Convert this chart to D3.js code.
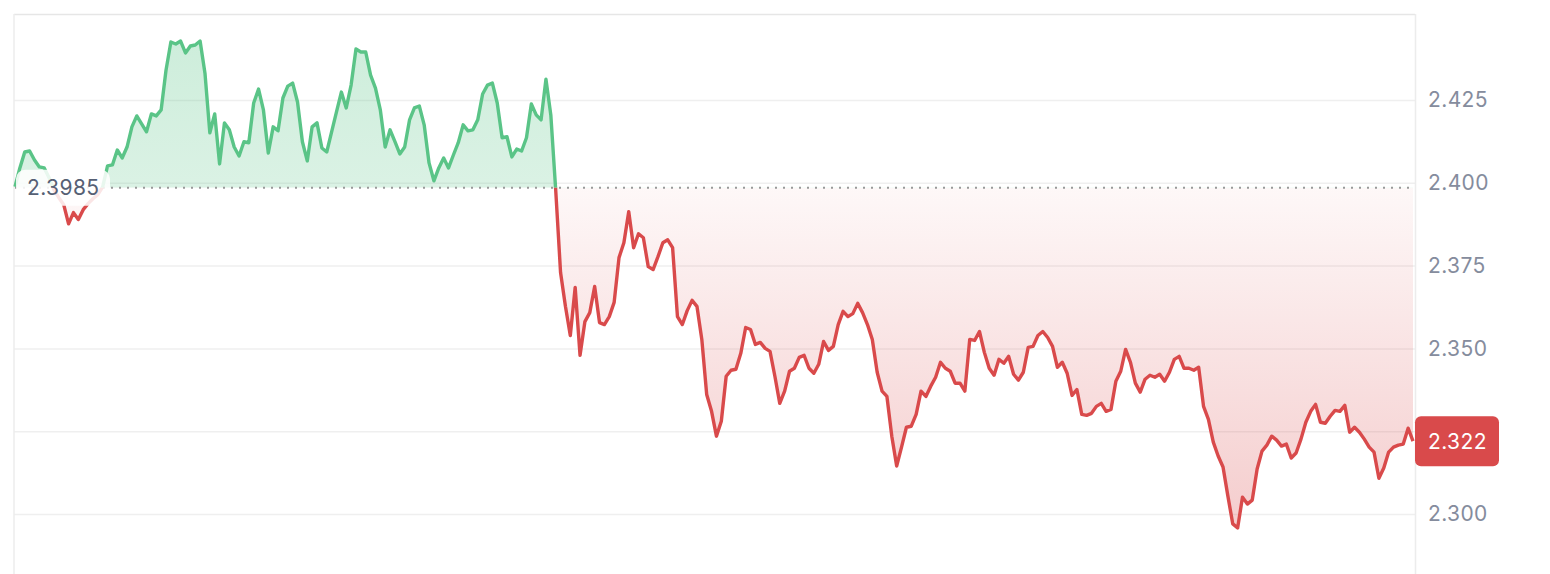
<!DOCTYPE html>
<html>
<head>
<meta charset="utf-8">
<script src="https://cdn.jsdelivr.net/npm/d3@7"></script>
<style>
  body { margin: 0; background: #fff; overflow: hidden; }
  text { font-family: Inter, "Noto Sans", sans-serif; }
</style>
</head>
<body>
<script>
var w = 1550;
var h = 574;
var svg;

// price series, one point per step
var prices = [
  2.3988, 2.4045, 2.4093, 2.4096, 2.4069, 2.4048, 2.4045, 2.4015, 2.3979, 2.3955,
  2.3934, 2.3876, 2.3910, 2.3889, 2.3919, 2.3937, 2.3952, 2.3964, 2.3988,
  2.4051, 2.4054, 2.4099, 2.4075, 2.4108, 2.4169, 2.4202, 2.4178, 2.4154, 2.4208,
  2.4202, 2.4220, 2.4340, 2.4425, 2.4419, 2.4428, 2.4392, 2.4413, 2.4416, 2.4428,
  2.4331, 2.4151, 2.4208, 2.4057, 2.4181, 2.4160, 2.4108, 2.4081, 2.4124, 2.4121,
  2.4241, 2.4283, 2.4220, 2.4090,
  2.4169, 2.4157, 2.4256, 2.4292, 2.4301, 2.4244, 2.4124, 2.4066, 2.4169, 2.4181,
  2.4105, 2.4093, 2.4154, 2.4214, 2.4274, 2.4226, 2.4295, 2.4404, 2.4395, 2.4395,
  2.4325, 2.4286, 2.4220, 2.4108, 2.4160, 2.4124, 2.4087, 2.4108, 2.4190, 2.4226,
  2.4232, 2.4175, 2.4060, 2.4006, 2.4045, 2.4075, 2.4045, 2.4084, 2.4121, 2.4175,
  2.4157, 2.4160, 2.4190, 2.4268, 2.4295, 2.4301, 2.4241, 2.4136, 2.4139, 2.4078,
  2.4102, 2.4096, 2.4136, 2.4238, 2.4205, 2.4190, 2.4313, 2.4205, 2.3979,
  2.3729, 2.3627, 2.3539, 2.3684, 2.3479, 2.3581, 2.3608, 2.3687, 2.3578, 2.3572,
  2.3596, 2.3639, 2.3774, 2.3819, 2.3913, 2.3804, 2.3846, 2.3834, 2.3747, 2.3738,
  2.3777, 2.3819, 2.3828, 2.3804, 2.3596, 2.3572, 2.3614, 2.3645, 2.3627, 2.3527,
  2.3361, 2.3310, 2.3235, 2.3280, 2.3416, 2.3434, 2.3437, 2.3485, 2.3563, 2.3557,
  2.3512, 2.3518, 2.3500, 2.3491, 2.3416, 2.3334, 2.3371, 2.3431, 2.3440, 2.3473,
  2.3479, 2.3440, 2.3425, 2.3452, 2.3521, 2.3494, 2.3506, 2.3572, 2.3612, 2.3596,
  2.3605, 2.3636, 2.3608, 2.3572, 2.3527, 2.3428, 2.3371, 2.3355, 2.3235, 2.3145,
  2.3202, 2.3262, 2.3265, 2.3301, 2.3371, 2.3355, 2.3386, 2.3413, 2.3458, 2.3440,
  2.3431, 2.3395, 2.3395, 2.3371, 2.3527, 2.3524, 2.3551, 2.3488, 2.3440, 2.3419,
  2.3467, 2.3455, 2.3476, 2.3422, 2.3404, 2.3428, 2.3503, 2.3506, 2.3539,
  2.3551, 2.3533, 2.3506, 2.3443, 2.3458, 2.3425, 2.3358, 2.3376, 2.3301, 2.3298,
  2.3304, 2.3325, 2.3334, 2.3310, 2.3316, 2.3401, 2.3431, 2.3497, 2.3458, 2.3395,
  2.3368, 2.3407, 2.3419, 2.3413, 2.3422, 2.3401, 2.3428, 2.3467, 2.3476, 2.3440,
  2.3440, 2.3434, 2.3443, 2.3325, 2.3286, 2.3217, 2.3175, 2.3142, 2.3054, 2.2970,
  2.2958, 2.3051, 2.3030, 2.3042, 2.3136, 2.3190, 2.3208, 2.3235,
  2.3223, 2.3205, 2.3211, 2.3169, 2.3184, 2.3226, 2.3277, 2.3310, 2.3331, 2.3277,
  2.3274, 2.3295, 2.3313, 2.3310, 2.3328, 2.3247, 2.3262, 2.3247, 2.3226, 2.3202,
  2.3187, 2.3108, 2.3139, 2.3187, 2.3202, 2.3208, 2.3211, 2.3259, 2.3220
];

var basePrice = 2.3985;
var lastPrice = 2.322;
var yTicks = [2.300, 2.325, 2.350, 2.375, 2.400, 2.425];

var green = "#5ac487";
var red = "#d94a4b";

drawContent();

function drawContent(){
    svg = d3.select("body")
        .append("svg")
        .attr("width", w)
        .attr("height", h);

    var x = d3.scaleLinear()
        .domain([0, prices.length - 1])
        .range([15, 1413]);

    var y = d3.scaleLinear()
        .domain([2.300, 2.425])
        .range([514, 100]);

    var baseY = y(basePrice);

    //---defs-----
    var defs = svg.append("defs");

    defs.append("clipPath").attr("id", "clipUp")
        .append("rect")
        .attr("x", 0).attr("y", 0)
        .attr("width", w).attr("height", baseY);

    defs.append("clipPath").attr("id", "clipDown")
        .append("rect")
        .attr("x", 0).attr("y", baseY)
        .attr("width", w).attr("height", h - baseY);

    var gGreen = defs.append("linearGradient")
        .attr("id", "fillGreen")
        .attr("gradientUnits", "userSpaceOnUse")
        .attr("x1", 0).attr("y1", 40)
        .attr("x2", 0).attr("y2", baseY);
    gGreen.append("stop").attr("offset", 0).attr("stop-color", green).attr("stop-opacity", 0.3);
    gGreen.append("stop").attr("offset", 1).attr("stop-color", green).attr("stop-opacity", 0.22);

    var gRed = defs.append("linearGradient")
        .attr("id", "fillRed")
        .attr("gradientUnits", "userSpaceOnUse")
        .attr("x1", 0).attr("y1", baseY)
        .attr("x2", 0).attr("y2", 530);
    gRed.append("stop").attr("offset", 0).attr("stop-color", red).attr("stop-opacity", 0.04);
    gRed.append("stop").attr("offset", 1).attr("stop-color", red).attr("stop-opacity", 0.28);

    //---grid and frame-----
    svg.append("g")
        .attr("transform", "translate(1415,0)")
        .call(d3.axisLeft(y).tickValues(yTicks).tickSize(1415 - 14).tickFormat(""))
        .call(function (g) { g.select(".domain").remove(); })
        .selectAll("line")
        .attr("stroke", "#efefef")
        .attr("stroke-width", 1.5);

    svg.append("line")
        .attr("x1", 14).attr("y1", 14.5)
        .attr("x2", 1415).attr("y2", 14.5)
        .attr("stroke", "#e6e6e6")
        .attr("stroke-width", 1.5);

    svg.append("line")
        .attr("x1", 14).attr("y1", 14)
        .attr("x2", 14).attr("y2", h)
        .attr("stroke", "#ececec")
        .attr("stroke-width", 1.5);

    svg.append("line")
        .attr("x1", 1415.5).attr("y1", 14)
        .attr("x2", 1415.5).attr("y2", h)
        .attr("stroke", "#ececec")
        .attr("stroke-width", 1.5);

    //---areas-----
    var area = d3.area()
        .x(function (d, i) { return x(i); })
        .y0(baseY)
        .y1(function (d) { return y(d); });

    svg.append("path")
        .datum(prices)
        .attr("d", area)
        .attr("fill", "url(#fillGreen)")
        .attr("clip-path", "url(#clipUp)");

    svg.append("path")
        .datum(prices)
        .attr("d", area)
        .attr("fill", "url(#fillRed)")
        .attr("clip-path", "url(#clipDown)");

    //---base line-----
    svg.append("line")
        .attr("x1", 15).attr("y1", baseY)
        .attr("x2", 1410).attr("y2", baseY)
        .attr("stroke", "#999999")
        .attr("stroke-width", 2)
        .attr("stroke-dasharray", "2,6");

    //---price line-----
    var line = d3.line()
        .x(function (d, i) { return x(i); })
        .y(function (d) { return y(d); });

    svg.append("path")
        .datum(prices)
        .attr("d", line)
        .attr("fill", "none")
        .attr("stroke", green)
        .attr("stroke-width", 3.4)
        .attr("stroke-linejoin", "round")
        .attr("clip-path", "url(#clipUp)");

    svg.append("path")
        .datum(prices)
        .attr("d", line)
        .attr("fill", "none")
        .attr("stroke", red)
        .attr("stroke-width", 3.4)
        .attr("stroke-linejoin", "round")
        .attr("clip-path", "url(#clipDown)");

    //---base label-----
    svg.append("rect")
        .attr("x", 16)
        .attr("y", baseY - 18)
        .attr("width", 94)
        .attr("height", 36)
        .attr("rx", 9)
        .attr("fill", "#ffffff")
        .attr("fill-opacity", 0.86);

    svg.append("text")
        .text(d3.format(".4f")(basePrice))
        .attr("x", 27)
        .attr("y", baseY)
        .attr("dy", "0.36em")
        .attr("font-size", 21)
        .attr("letter-spacing", 0.4)
        .attr("fill", "#566074");

    //---y axis-----
    var lastY = y(lastPrice);

    var axis = svg.append("g")
        .attr("transform", "translate(1415,0)")
        .call(d3.axisRight(y).tickValues(yTicks).tickSize(0).tickPadding(13).tickFormat(d3.format(".3f")));

    axis.select(".domain").remove();
    axis.selectAll("text")
        .attr("font-size", 21)
        .attr("letter-spacing", 0.4)
        .attr("font-family", "Inter, 'Noto Sans', sans-serif")
        .attr("fill", "#858c9d")
        .attr("display", function (d) { return Math.abs(y(d) - lastY) < 24 ? "none" : null; });

    //---last price tag-----
    svg.append("rect")
        .attr("x", 1415)
        .attr("y", lastY - 25)
        .attr("width", 84)
        .attr("height", 50)
        .attr("rx", 6)
        .attr("fill", red);

    svg.append("text")
        .text(d3.format(".3f")(lastPrice))
        .attr("x", 1428)
        .attr("y", lastY)
        .attr("dy", "0.36em")
        .attr("font-size", 21)
        .attr("letter-spacing", 0.4)
        .attr("fill", "#ffffff");
}
</script>
</body>
</html>
